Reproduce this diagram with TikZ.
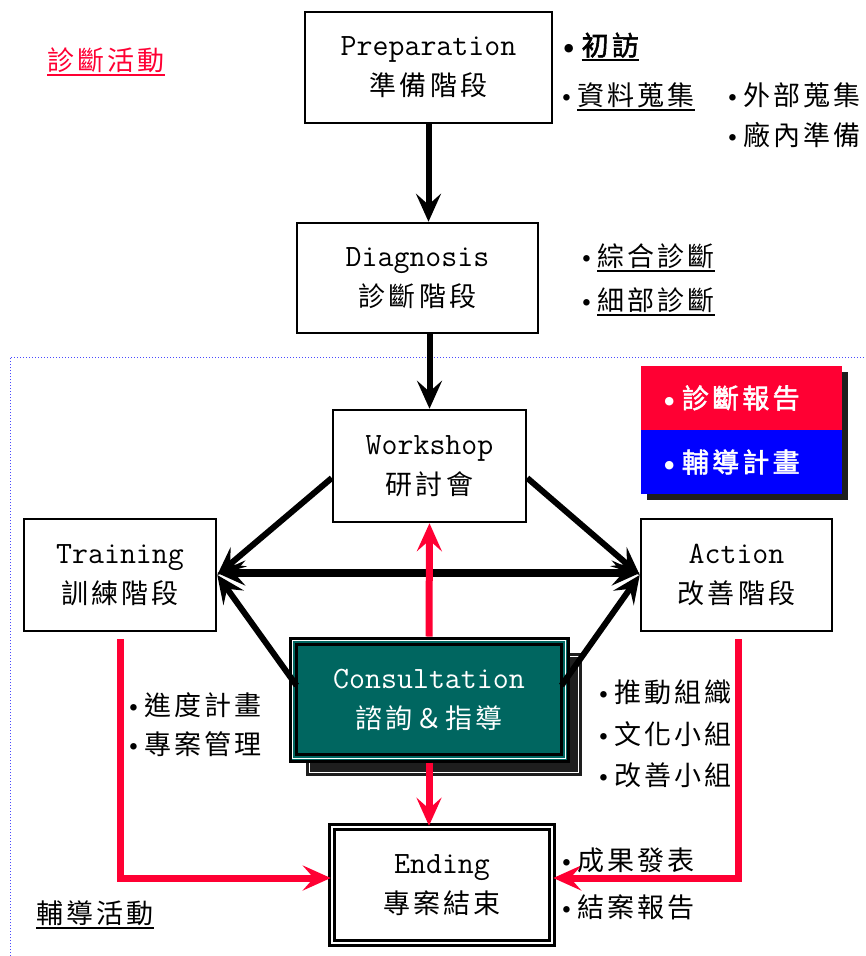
\documentclass[tikz,border=0pt]{standalone}
\usepackage{fontspec}
\usetikzlibrary{arrows.meta,calc}
\newfontfamily\cjk[LetterSpace=12,AutoFakeBold=2]{Noto Sans CJK TC}
\definecolor{diagred}{HTML}{FF0033}
\definecolor{consteal}{HTML}{006660}
\definecolor{shadowgray}{HTML}{1E1E1E}
\definecolor{frameblue}{HTML}{4A4AFF}
\newcommand\bul{{\rmfamily\fontsize{29}{30}\selectfont\textbullet}}
\newcommand\undl[1]{\setbox0=\hbox{#1}\leavevmode\rlap{\rule[-6pt]{\wd0}{2.2pt}}\box0}
\newcommand\stagetext[2]{{\ttfamily\fontsize{31}{40}\selectfont #1}\\{\cjk #2}}
\tikzset{
  stage/.style={draw, line width=2.5pt, fill=white, align=center, inner sep=0pt,
    font=\fontsize{27}{40}\selectfont},
  note/.style={anchor=west, inner sep=0pt, font=\cjk\fontsize{27}{30}\selectfont},
  legend/.style={inner sep=0pt, minimum width=201pt, minimum height=64pt, text width=170pt,
    align=left, text=white, font=\cjk\bfseries\fontsize{27}{30}\selectfont},
}
\begin{document}
\begin{tikzpicture}[x=1pt, y=-1pt, >={Stealth[length=28pt,width=25pt,inset=11pt]}]
\useasboundingbox (0,0) rectangle (865,956);
%
\draw[frameblue, dotted, line width=1pt] (10,956) -- (10,357) -- (865,357);
%
\node[stage, minimum width=247pt, minimum height=111pt] (prep) at (428.5,67.5) {\stagetext{Preparation}{準備階段}};
\node[stage, minimum width=241pt, minimum height=110pt] (diag) at (417.5,278) {\stagetext{Diagnosis}{診斷階段}};
\node[stage, minimum width=193pt, minimum height=112pt] (work) at (429.5,466) {\stagetext{Workshop}{研討會}};
\node[stage, minimum width=192pt, minimum height=112pt] (train) at (120,575) {\stagetext{Training}{訓練階段}};
\node[stage, minimum width=191pt, minimum height=112pt] (act) at (736.5,575) {\stagetext{Action}{改善階段}};
\node[stage, double, double distance=2.5pt, minimum width=220pt, minimum height=116pt] (ending) at (442,885) {\stagetext{Ending}{專案結束}};
%
% consultation with shadow
\node[fill=shadowgray, minimum width=276pt, minimum height=123pt, inner sep=0pt] (consshadow) at (444,714.5) {};
\draw[white, line width=1pt] ($(consshadow.north west)+(4,4)$) rectangle ($(consshadow.south east)+(-4,-4)$);
\node[stage, fill=consteal, text=white, line width=3pt, minimum width=278pt, minimum height=123pt] (cons) at (429,699.5) {\stagetext{Consultation}{諮詢＆指導}};
\draw[white, line width=1pt] ($(cons.north west)+(4,4)$) rectangle ($(cons.south east)+(-4,-4)$);
\draw[line width=2.5pt] ($(cons.north west)+(8,8)$) rectangle ($(cons.south east)+(-8,-8)$);
%
% legend
\node[fill=shadowgray, minimum width=201pt, minimum height=128pt, inner sep=0pt] (legshadow) at (747.5,436) {};
\node[legend, fill=diagred] (report) at (741.5,398) {\bul 診斷報告};
\node[legend, fill=blue] (plan) at (741.5,462) {\bul 輔導計畫};
%
\begin{scope}[line width=6pt]
  \draw[->] (prep.south) -- (prep.south |- diag.north);
  \draw[->] (work.north |- diag.south) -- (work.north);
  %
  \draw[->] ([yshift=-12pt]work.west) -- (train.east);
  \draw[->] ([yshift=-12pt]work.east) -- (act.west);
  %
  \draw[->] ([xshift=8pt,yshift=14pt]cons.west) -- (train.east);
  \draw[->] ([xshift=-8pt,yshift=14pt]cons.east) -- (act.west);
\end{scope}
%
\draw[<->, line width=8pt] ([yshift=2pt]train.east) -- ([yshift=2pt]act.west);
%
\begin{scope}[diagred, line width=7pt]
  \draw[->] (cons.north) -- (work.south);
  \draw[->] (cons.south) -- (cons.south |- ending.north);
  %
  \draw[->] ([yshift=-7pt]train.south) |- ([yshift=7pt]ending.west);
  \draw[->] ([yshift=-7pt, xshift=1.5pt]act.south) |- ([yshift=7pt]ending.east);
\end{scope}
%
\node[note, text=diagred] (diaglabel) at (47,62) {\undl{診斷活動}};
\node[note] (consultlabel) at (36,915) {\undl{輔導活動}};
%
\node[note] (visit) at (556,47) {\bfseries\bul\undl{初訪}};
\node[note] (datacoll) at (556,97) {\bul\undl{資料蒐集}};
\node[note] (extcoll) at (722,95) {\bul 外部蒐集};
\node[note] (inprep) at (722,135) {\bul 廠內準備};
%
\node[note] (overall) at (576,258) {\bul\undl{綜合診斷}};
\node[note] (detail) at (576,302) {\bul\undl{細部診斷}};
%
\node[note] (sched) at (123,705) {\bul 進度計畫};
\node[note] (projmgmt) at (123,744) {\bul 專案管理};
%
\node[note] (promote) at (593,692) {\bul 推動組織};
\node[note] (culture) at (593,734) {\bul 文化小組};
\node[note] (improve) at (593,775) {\bul 改善小組};
%
\node[note] (result) at (556,860) {\bul 成果發表};
\node[note] (closing) at (556,907) {\bul 結案報告};
%
\end{tikzpicture}
\end{document}
